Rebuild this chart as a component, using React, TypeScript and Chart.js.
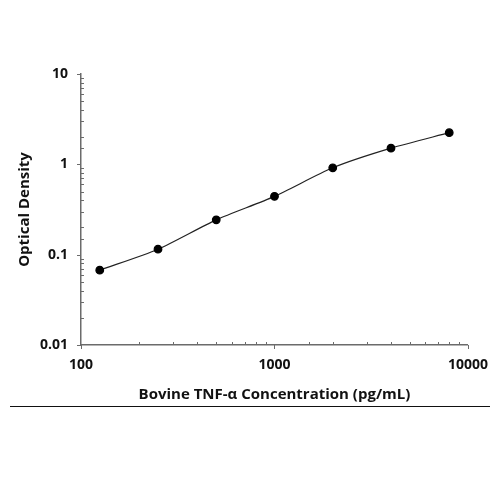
import React, { useEffect, useRef } from "react";
import { Chart, registerables } from "chart.js";

Chart.register(...registerables);

const concentrations = [125, 250, 500, 1000, 2000, 4000, 8000];
const opticalDensity = [0.0674, 0.115, 0.243, 0.442, 0.915, 1.51, 2.24];
const xMajorTicks = [100, 1000, 10000];
const yMajorTicks = [0.01, 0.1, 1, 10];
const xTitle = "Bovine TNF-\u03b1 Concentration (pg/mL)";
const yTitle = "Optical Density";

const FONT = "'Open Sans', 'Noto Sans', sans-serif";
const AXIS_COLOR = "#6b6b6b";

const isMajor = (v: number, majors: number[]) =>
  majors.some((m) => Math.abs(v - m) / m < 1e-6);

const tickPlugin = {
  id: "customTicks",
  afterDraw(chart: any) {
    const ctx = chart.ctx;
    const xs = chart.scales.x;
    const ys = chart.scales.y;
    const area = chart.chartArea;
    ctx.save();
    ctx.strokeStyle = AXIS_COLOR;
    ctx.lineWidth = 1;
    xs.ticks.forEach((t: any) => {
      const px = Math.round(xs.getPixelForValue(t.value)) + 0.5;
      ctx.beginPath();
      if (isMajor(t.value, xMajorTicks)) {
        ctx.moveTo(px, area.bottom);
        ctx.lineTo(px, area.bottom + 4);
      } else {
        ctx.moveTo(px, area.bottom);
        ctx.lineTo(px, area.bottom - 3);
      }
      ctx.stroke();
    });
    ys.ticks.forEach((t: any) => {
      const py = Math.round(ys.getPixelForValue(t.value)) + 0.5;
      ctx.beginPath();
      if (isMajor(t.value, yMajorTicks)) {
        ctx.moveTo(area.left - 4, py);
        ctx.lineTo(area.left, py);
      } else {
        ctx.moveTo(area.left, py);
        ctx.lineTo(area.left + 3, py);
      }
      ctx.stroke();
    });
    ctx.strokeStyle = "#111";
    ctx.lineWidth = 1.2;
    ctx.beginPath();
    ctx.moveTo(10, 406.5);
    ctx.lineTo(490, 406.5);
    ctx.stroke();
    ctx.restore();
  },
};

export default function App() {
  const canvasRef = useRef<HTMLCanvasElement | null>(null);

  useEffect(() => {
    if (!canvasRef.current) return;
    const chart = new Chart(canvasRef.current, {
      type: "line",
      data: {
        datasets: [
          {
            data: concentrations.map((c, i) => ({ x: c, y: opticalDensity[i] })),
            borderColor: "#222",
            borderWidth: 1.2,
            backgroundColor: "#000",
            pointBackgroundColor: "#000",
            pointBorderColor: "#000",
            pointRadius: 3.8,
            tension: 0.25,
            fill: false,
          },
        ],
      },
      options: {
        responsive: false,
        animation: false,
        layout: { padding: { top: 74, right: 31, left: 0, bottom: 0 } },
        plugins: { legend: { display: false }, tooltip: { enabled: false } },
        scales: {
          x: {
            type: "logarithmic",
            min: 100,
            max: 10000,
            afterFit: (s: any) => {
              s.height = 155;
            },
            grid: { display: false, drawTicks: false },
            border: { display: true, color: AXIS_COLOR, width: 1.5 },
            ticks: {
              autoSkip: false,
              maxRotation: 0,
              padding: 12,
              color: "#111",
              font: { family: FONT, size: 14, weight: "bold" },
              callback: (v: any) => (isMajor(Number(v), xMajorTicks) ? String(v) : ""),
            },
            title: {
              display: true,
              text: xTitle,
              color: "#111",
              font: { family: FONT, size: 15, weight: "bold" },
              padding: { top: 0, bottom: 96 },
            },
          },
          y: {
            type: "logarithmic",
            min: 0.01,
            max: 10,
            afterFit: (s: any) => {
              s.width = 81;
            },
            grid: { display: false, drawTicks: false },
            border: { display: true, color: AXIS_COLOR, width: 1.5 },
            ticks: {
              autoSkip: false,
              padding: 13,
              color: "#111",
              font: { family: FONT, size: 14, weight: "bold" },
              callback: (v: any) => (isMajor(Number(v), yMajorTicks) ? String(Number(v)) : ""),
            },
            title: {
              display: true,
              text: yTitle,
              color: "#111",
              font: { family: FONT, size: 15, weight: "bold" },
              padding: { top: 16, bottom: 0 },
            },
          },
        },
      },
      plugins: [tickPlugin],
    } as any);
    return () => chart.destroy();
  }, []);

  return (
    <div style={{ position: "absolute", left: 0, top: 0, width: 500, height: 500, background: "#fff" }}>
      <canvas ref={canvasRef} width={500} height={500} />
    </div>
  );
}
